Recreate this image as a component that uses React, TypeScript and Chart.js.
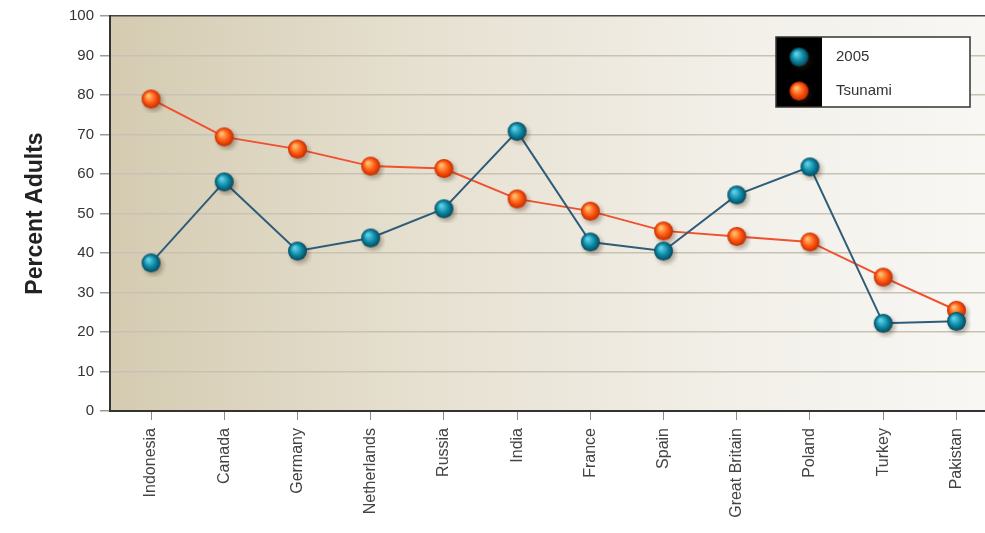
import React, { useEffect, useRef } from "react";
import { Chart, registerables } from "chart.js";

Chart.register(...registerables);

const categories = ["Indonesia", "Canada", "Germany", "Netherlands", "Russia", "India", "France", "Spain", "Great Britain", "Poland", "Turkey", "Pakistan"];
const series2005 = [37.5, 58, 40.5, 43.8, 51.2, 70.8, 42.8, 40.5, 54.7, 61.8, 22.2, 22.7];
const seriesTsunami = [79, 69.4, 66.3, 62, 61.4, 53.7, 50.6, 45.6, 44.2, 42.8, 33.9, 25.5];
const yTicks = [0, 10, 20, 30, 40, 50, 60, 70, 80, 90, 100];

function makeSphere(hi: string, mid: string, edge: string, r: number): HTMLCanvasElement {
  const size = Math.ceil(r * 2 + 10);
  const c = document.createElement("canvas");
  c.width = size;
  c.height = size;
  const ctx = c.getContext("2d")!;
  const cx = size / 2, cy = size / 2;
  ctx.save();
  ctx.filter = "blur(2px)";
  ctx.fillStyle = "rgba(60,40,20,0.35)";
  ctx.beginPath();
  ctx.arc(cx + 2.5, cy + 3, r, 0, Math.PI * 2);
  ctx.fill();
  ctx.restore();
  const g = ctx.createRadialGradient(cx - r * 0.3, cy - r * 0.35, r * 0.1, cx, cy, r);
  g.addColorStop(0, hi);
  g.addColorStop(0.55, mid);
  g.addColorStop(1, edge);
  ctx.fillStyle = g;
  ctx.beginPath();
  ctx.arc(cx, cy, r, 0, Math.PI * 2);
  ctx.fill();
  return c;
}

export default function App() {
  const ref = useRef<HTMLCanvasElement | null>(null);
  useEffect(() => {
    document.body.style.margin = "0";
    document.body.style.overflow = "hidden";
    const blueSphere = makeSphere("#5fd0e6", "#0d8aa6", "#07465a", 9.5);
    const orangeSphere = makeSphere("#ffc070", "#ff5a12", "#c42a00", 9.5);
    const bgPlugin = {
      id: "bg",
      beforeDraw(chart: any) {
        const { ctx, chartArea: a } = chart;
        const g = ctx.createLinearGradient(a.left, 0, a.right, 0);
        g.addColorStop(0, "#d4cbb1");
        g.addColorStop(0.35, "#e6e0d0");
        g.addColorStop(0.7, "#f2efe8");
        g.addColorStop(1, "#f8f7f4");
        ctx.save();
        ctx.fillStyle = g;
        ctx.fillRect(a.left, a.top, a.right - a.left, a.bottom - a.top);
        ctx.restore();
      },
      afterDraw(chart: any) {
        const { ctx } = chart;
        ctx.save();
        const x = 776, y = 37, w = 194, h = 70;
        ctx.fillStyle = "#ffffff";
        ctx.fillRect(x, y, w, h);
        ctx.fillStyle = "#000000";
        ctx.fillRect(x, y, 46, h);
        ctx.strokeStyle = "#333333";
        ctx.lineWidth = 1.5;
        ctx.strokeRect(x, y, w, h);
        const items = [
          { img: blueSphere, label: chart.data.datasets[0].label, yy: 57 },
          { img: orangeSphere, label: chart.data.datasets[1].label, yy: 91 },
        ];
        ctx.font = "15px 'Liberation Sans', Arial, sans-serif";
        ctx.textBaseline = "middle";
        ctx.fillStyle = "#333333";
        for (const it of items) {
          ctx.drawImage(it.img, 799 - it.img.width / 2, it.yy - it.img.height / 2);
          ctx.fillText(it.label, 836, it.yy);
        }
        ctx.restore();
      },
    };
    const chart = new Chart(ref.current!, {
      type: "line",
      data: {
        datasets: [
          {
            label: "2005",
            data: series2005.map((v, i) => ({ x: i, y: v })),
            borderColor: "#2f5c78",
            borderWidth: 2,
            pointStyle: blueSphere as any,
            pointRadius: 10,
            tension: 0,
            clip: false,
          },
          {
            label: "Tsunami",
            data: seriesTsunami.map((v, i) => ({ x: i, y: v })),
            borderColor: "#f0502e",
            borderWidth: 2,
            pointStyle: orangeSphere as any,
            pointRadius: 10,
            tension: 0,
            clip: false,
          },
        ],
      },
      options: {
        responsive: false,
        animation: false,
        layout: { autoPadding: false, padding: { top: 16, right: 0, left: 0, bottom: 0 } },
        plugins: { legend: { display: false }, tooltip: { enabled: false } },
        scales: {
          x: {
            type: "linear",
            min: -0.56,
            max: 11.39,
            afterBuildTicks: (scale: any) => {
              scale.ticks = categories.map((_, i) => ({ value: i }));
            },
            afterFit: (scale: any) => {
              scale.height = 122;
              scale.paddingLeft = 0;
              scale.paddingRight = 0;
            },
            ticks: {
              autoSkip: false,
              minRotation: 90,
              maxRotation: 90,
              padding: 8,
              color: "#444444",
              font: { family: "'Liberation Sans', Arial, sans-serif", size: 16 },
              callback: (v: any) => categories[Math.round(Number(v))] ?? "",
            },
            grid: { drawOnChartArea: false, drawTicks: true, tickLength: 9, color: "#8a8a8a", lineWidth: 1 },
            border: { color: "#333333", width: 2 },
          },
          y: {
            min: 0,
            max: 100,
            afterBuildTicks: (scale: any) => {
              scale.ticks = yTicks.map((v) => ({ value: v }));
            },
            afterFit: (scale: any) => {
              scale.width = 110;
              scale.paddingTop = 0;
              scale.paddingBottom = 0;
            },
            ticks: {
              padding: 6,
              color: "#333333",
              font: { family: "'Liberation Sans', Arial, sans-serif", size: 15 },
            },
            grid: {
              tickLength: 10,
              color: (ctx: any) => (ctx.tick && ctx.tick.value === 100 ? "#444444" : "#c8c2b4"),
              tickColor: "#9a9a9a",
              lineWidth: 1.5,
            },
            border: { color: "#333333", width: 2 },
            title: {
              display: true,
              text: "Percent Adults",
              color: "#222222",
              font: { family: "'Liberation Sans', Arial, sans-serif", size: 23, weight: "bold" },
              padding: { top: 22, bottom: 0 },
            },
          },
        },
      },
      plugins: [bgPlugin],
    } as any);
    return () => chart.destroy();
  }, []);
  return (
    <div style={{ width: 985, height: 533, overflow: "hidden" }}>
      <canvas ref={ref} width={985} height={533} style={{ display: "block" }} />
    </div>
  );
}
